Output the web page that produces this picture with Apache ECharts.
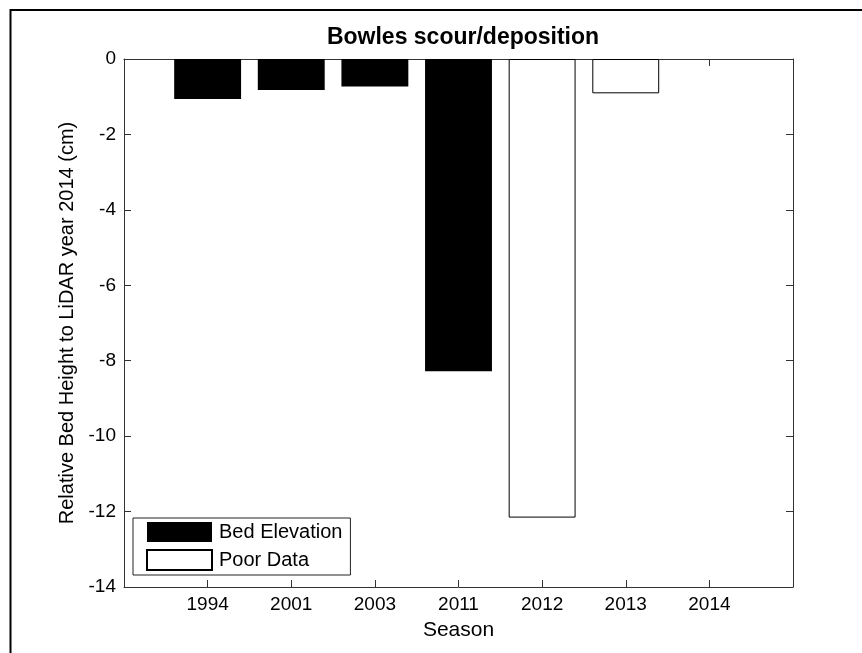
<!DOCTYPE html>
<html>
<head>
<meta charset="utf-8">
<script src="https://cdn.jsdelivr.net/npm/echarts@6/dist/echarts.min.js"></script>
<style>
html,body{margin:0;padding:0;background:#fff;}
#chart{width:862px;height:653px;}
</style>
</head>
<body>
<div id="chart"></div>
<script>
// ---- data ----
var seasons = ['1994', '2001', '2003', '2011', '2012', '2013', '2014'];
var bedElevation = [-1.06, -0.82, -0.73, -8.28, null, null, 0];
var poorData = [null, null, null, null, -12.16, -0.91, null];
var yTicks = [0, -2, -4, -6, -8, -10, -12, -14];

var FONT = '"Liberation Sans", Arial, Helvetica, sans-serif';
var AX = '#333333';

// padded category list so the axis spans one unit beyond the first/last season
var axisCats = [''].concat(seasons).concat(['']);
function pad(arr) { return [null].concat(arr).concat([null]); }

var chart = echarts.init(document.getElementById('chart'), null, {renderer: 'canvas'});
var option = {
  backgroundColor: '#fff',
  animation: false,
  title: {
    text: 'Bowles scour/deposition',
    left: 458, textAlign: 'center',
    top: 21,
    textStyle: {fontFamily: FONT, fontSize: 23, fontWeight: 'bold', color: '#000'}
  },
  graphic: [{
    type: 'rect', silent: true,
    shape: {x: 10.5, y: 10, width: 1000, height: 1000},
    style: {fill: 'none', stroke: '#000', lineWidth: 2}
  }],
  legend: {
    orient: 'vertical',
    left: 133, top: 518,
    padding: [4, 8, 4, 13],
    itemWidth: 65, itemHeight: 20, itemGap: 7,
    borderColor: '#222', borderWidth: 1,
    backgroundColor: '#fff',
    icon: 'rect',
    textStyle: {fontFamily: FONT, fontSize: 20, color: '#000', padding: [0, 0, 0, 2]},
    data: ['Bed Elevation', 'Poor Data']
  },
  grid: {left: 124, right: 69, top: 59, bottom: 66, containLabel: false},
  xAxis: [{
    type: 'category', data: axisCats, boundaryGap: false, position: 'bottom',
    axisLine: {show: true, onZero: false, lineStyle: {color: AX, width: 1}},
    axisTick: {show: true, inside: true, length: 7, interval: 0, lineStyle: {color: AX}},
    axisLabel: {interval: 0, margin: 8, fontFamily: FONT, fontSize: 19, color: '#000'},
    name: 'Season', nameLocation: 'middle', nameGap: 33,
    nameTextStyle: {fontFamily: FONT, fontSize: 21, color: '#000'},
    splitLine: {show: false}
  }, {
    type: 'category', data: axisCats, boundaryGap: false, position: 'top',
    axisLine: {show: true, onZero: false, lineStyle: {color: AX, width: 1}},
    axisTick: {show: true, inside: true, length: 7, interval: 0, lineStyle: {color: AX}},
    axisLabel: {show: false},
    splitLine: {show: false}
  }],
  yAxis: [{
    type: 'value', min: -14, max: 0, interval: 2, position: 'left',
    axisLine: {show: true, onZero: false, lineStyle: {color: AX, width: 1}},
    axisTick: {show: true, inside: true, length: 7, lineStyle: {color: AX}},
    axisLabel: {margin: 8, fontFamily: FONT, fontSize: 19, color: '#000',
      formatter: function (v) { return yTicks.indexOf(v) >= 0 ? String(v) : ''; }},
    name: 'Relative Bed Height to LiDAR year 2014 (cm)', nameLocation: 'middle', nameGap: 46,
    nameTextStyle: {fontFamily: FONT, fontSize: 20, color: '#000'},
    splitLine: {show: false}
  }, {
    type: 'value', min: -14, max: 0, interval: 2, position: 'right',
    axisLine: {show: true, onZero: false, lineStyle: {color: AX, width: 1}},
    axisTick: {show: true, inside: true, length: 7, lineStyle: {color: AX}},
    axisLabel: {show: false},
    splitLine: {show: false}
  }],
  series: [{
    name: 'Bed Elevation', type: 'bar', xAxisIndex: 0, yAxisIndex: 0,
    data: pad(bedElevation), barWidth: '80%', barGap: '-100%',
    itemStyle: {color: '#000', borderWidth: 0}
  }, {
    name: 'Poor Data', type: 'bar', xAxisIndex: 0, yAxisIndex: 0,
    data: pad(poorData), barWidth: '80%', barGap: '-100%',
    itemStyle: {color: '#fff', borderColor: '#000', borderWidth: 1}
  }]
};
chart.setOption(option);
</script>
</body>
</html>
